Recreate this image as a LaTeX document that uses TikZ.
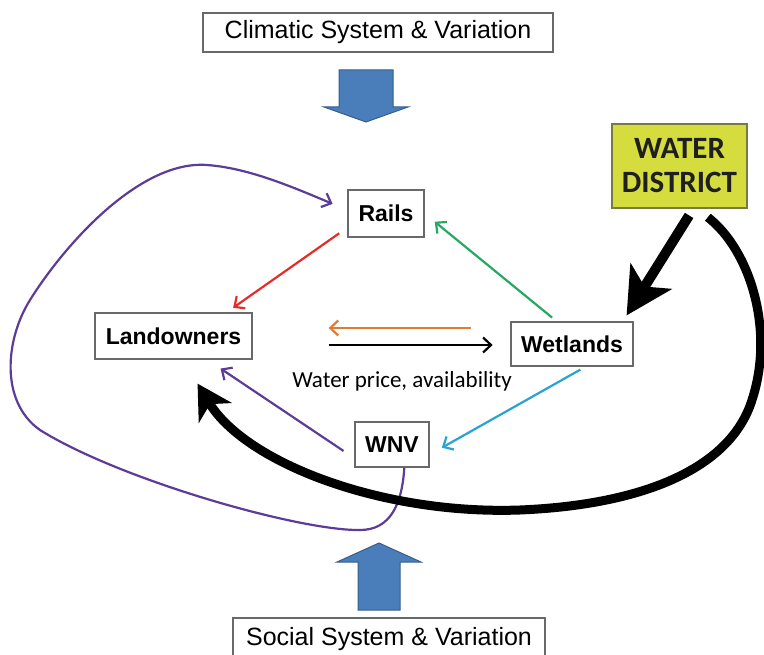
\documentclass[tikz,border=0pt]{standalone}
\usepackage{fontspec}
\setmainfont{Liberation Sans}
\newfontfamily\calibfont{Carlito}
\usetikzlibrary{arrows.meta,calc}

\definecolor{boxgray}{RGB}{105,105,105}
\definecolor{arrowblue}{RGB}{74,126,187}
\definecolor{arrowedge}{RGB}{56,93,138}
\definecolor{districtfill}{RGB}{213,220,62}
\definecolor{districtedge}{RGB}{120,122,70}
\definecolor{railred}{RGB}{228,45,42}
\definecolor{wetgreen}{RGB}{38,168,98}
\definecolor{priceorange}{RGB}{226,122,48}
\definecolor{wnvcyan}{RGB}{40,163,210}
\definecolor{loopurple}{RGB}{92,60,150}

\begin{document}
\begin{tikzpicture}[x=1pt,y=-1pt,
		box/.style={draw=boxgray,line width=1.3pt,fill=white,inner sep=0pt,
			font=\bfseries\fontsize{23}{27}\selectfont},
		sysbox/.style={draw=boxgray,line width=1.3pt,fill=white,inner sep=0pt,
			font=\fontsize{25}{30}\selectfont},
		thinarrow/.style={line width=2.2pt,-{Straight Barb[length=8pt,width=15pt]}},
		bigarrow/.style={line width=9pt,-{Stealth[length=34pt,width=38pt,inset=10pt]}},
		blockarrow/.style={fill=arrowblue,draw=arrowedge,line width=1pt}]
		\useasboundingbox (0,0) rectangle (764,655);
		\clip (0,0) rectangle (764,655);
		% outer systems
		\node[sysbox,minimum width=350pt,minimum height=39pt] (clim) at (378,32.5) {Climatic System \& Variation};
		\node[sysbox,minimum width=312pt,minimum height=42pt] (social) at (389,639) {Social System \& Variation};
		\draw[blockarrow] (339,70)--(393,70)--(393,107)--(408,107)--(366,122)--(324,107)--(339,107)--cycle;
		\draw[blockarrow] (358,610)--(400,610)--(400,562)--(421,562)--(379,543)--(337,562)--(358,562)--cycle;
		% actors
		\node[box,minimum width=76pt,minimum height=47pt] (rails) at (386,213.5) {Rails};
		\node[box,minimum width=157pt,minimum height=46pt] (land) at (173.5,336) {Landowners};
		\node[box,minimum width=122pt,minimum height=44pt] (wet) at (572,344) {Wetlands};
		\node[box,minimum width=74pt,minimum height=45pt] (wnv) at (392,444.5) {WNV};
		\node[draw=districtedge,fill=districtfill,line width=1.3pt,inner sep=0pt,
			minimum width=135pt,minimum height=84pt,align=center,text=black!88,
			font=\calibfont\bfseries\fontsize{31}{34}\selectfont] (water) at (679.5,166) {WATER\\DISTRICT};
		\node[font=\calibfont\fontsize{23}{27}\selectfont] (price) at (402,381) {Water price, availability};
		% links
		\draw[thinarrow,railred,shorten <=10pt,shorten >=8pt] (rails.200)--(land.24);
		\draw[thinarrow,wetgreen,shorten <=6pt,shorten >=13pt] (wet.124)--(rails.east);
		\draw[thinarrow,wnvcyan,shorten <=6pt,shorten >=14pt] (wet.-59)--(wnv.-15);
		\draw[thinarrow,loopurple,shorten <=13pt,shorten >=16pt] (wnv.200)--(land.-35);
		\draw[thinarrow,priceorange] ($(land.east)+(218,-8)$)--($(land.east)+(76,-8)$);
		\draw[thinarrow,black] ($(land.east)+(76,9)$)--($(land.east)+(240,9)$);
		\draw[thinarrow,loopurple,shorten >=16pt] (wnv.-62)
			.. controls (402,505) and (390,530) .. (360,530)
			.. controls (300,531) and (120,480) .. (40,430)
			.. controls (0,402) and (5,340) .. (30,300)
			.. controls (65,244) and (140,160) .. (207,165)
			.. controls (247,168) and (288,185) .. (rails.175);
		% water district
		\draw[line width=10pt,-{Stealth[length=46pt,width=48pt,inset=12pt]},shorten <=8pt,shorten >=7pt]
			(water.-72)--(wet.24);
		\draw[bigarrow,shorten <=14pt,shorten >=28pt] (water.-68)
			.. controls (750,250) and (775,330) .. (752,400)
			.. controls (730,470) and (640,505) .. (520,510)
			.. controls (380,515) and (245,462) .. (land.-68);
	\end{tikzpicture}
\end{document}
